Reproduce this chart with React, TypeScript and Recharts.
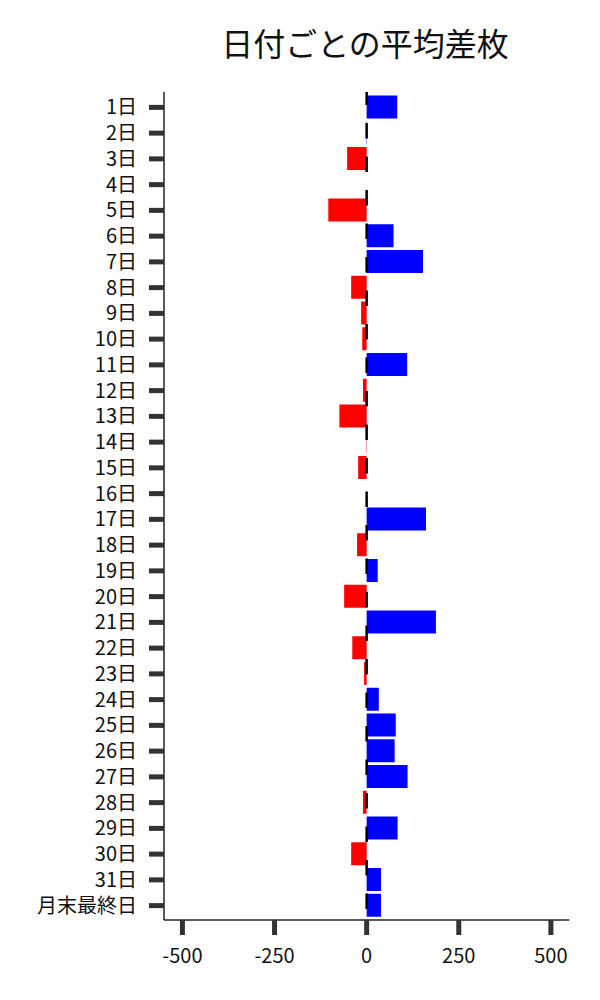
import React from "react";
import {
  BarChart,
  Bar,
  XAxis,
  YAxis,
  Cell,
  ReferenceLine,
} from "recharts";

const dayLabels: string[] = [
  "1日", "2日", "3日", "4日", "5日", "6日", "7日", "8日", "9日", "10日",
  "11日", "12日", "13日", "14日", "15日", "16日", "17日", "18日", "19日", "20日",
  "21日", "22日", "23日", "24日", "25日", "26日", "27日", "28日", "29日", "30日",
  "31日", "月末最終日",
];

const avgDiff: number[] = [
  83, 1, -53, 0, -104, 73, 153, -42, -15, -12,
  110, -10, -74, -1, -23, 0, 161, -26, 30, -61,
  188, -39, -7, 33, 79, 76, 111, -10, 84, -42,
  39, 39,
];

const xTicks: number[] = [-500, -250, 0, 250, 500];
const xDomain: [number, number] = [-550, 550];

const title = "日付ごとの平均差枚";

const data = dayLabels.map((label, i) => ({ label, value: avgDiff[i] }));

const FONT = "'Noto Sans CJK JP', 'Noto Sans', sans-serif";
const AXIS_COLOR = "#222";
const TICK_COLOR = "#333";

export default function App() {
  return (
    <div style={{ position: "absolute", left: 0, top: 0, width: 600, height: 1000, background: "#fff", fontFamily: FONT }}>
      <div
        style={{
          position: "absolute",
          left: 162,
          width: 406,
          top: 24,
          textAlign: "center",
          fontSize: 32,
          lineHeight: "36px",
          color: "#111",
        }}
      >
        {title}
      </div>
      <BarChart
        width={600}
        height={1000}
        data={data}
        layout="vertical"
        margin={{ top: 92, right: 30.7, left: 0, bottom: 20 }}
        barSize={23}
      >
        <XAxis
          type="number"
          domain={xDomain}
          ticks={xTicks}
          allowDataOverflow
          height={60}
          tickSize={15}
          tickMargin={14}
          axisLine={{ stroke: AXIS_COLOR, strokeWidth: 1.5 }}
          tickLine={{ stroke: TICK_COLOR, strokeWidth: 5 }}
          tick={{ fontSize: 20, fill: "#111", fontFamily: FONT }}
        />
        <YAxis
          type="category"
          dataKey="label"
          width={164}
          interval={0}
          padding={{ top: 2.5, bottom: 1.5 }}
          tickSize={15}
          tickMargin={12}
          axisLine={{ stroke: AXIS_COLOR, strokeWidth: 1.5 }}
          tickLine={{ stroke: TICK_COLOR, strokeWidth: 5 }}
          tick={{ fontSize: 20, fill: "#111", fontFamily: FONT }}
        />
        <Bar dataKey="value" isAnimationActive={false}>
          {data.map((d, i) => (
            <Cell key={i} fill={d.value >= 0 ? "#0000ff" : "#ff0000"} />
          ))}
        </Bar>
        <ReferenceLine
          x={0}
          stroke="#000"
          strokeWidth={2.5}
          strokeDasharray="15.5 18"
          strokeDashoffset={22.5}
        />
      </BarChart>
    </div>
  );
}
